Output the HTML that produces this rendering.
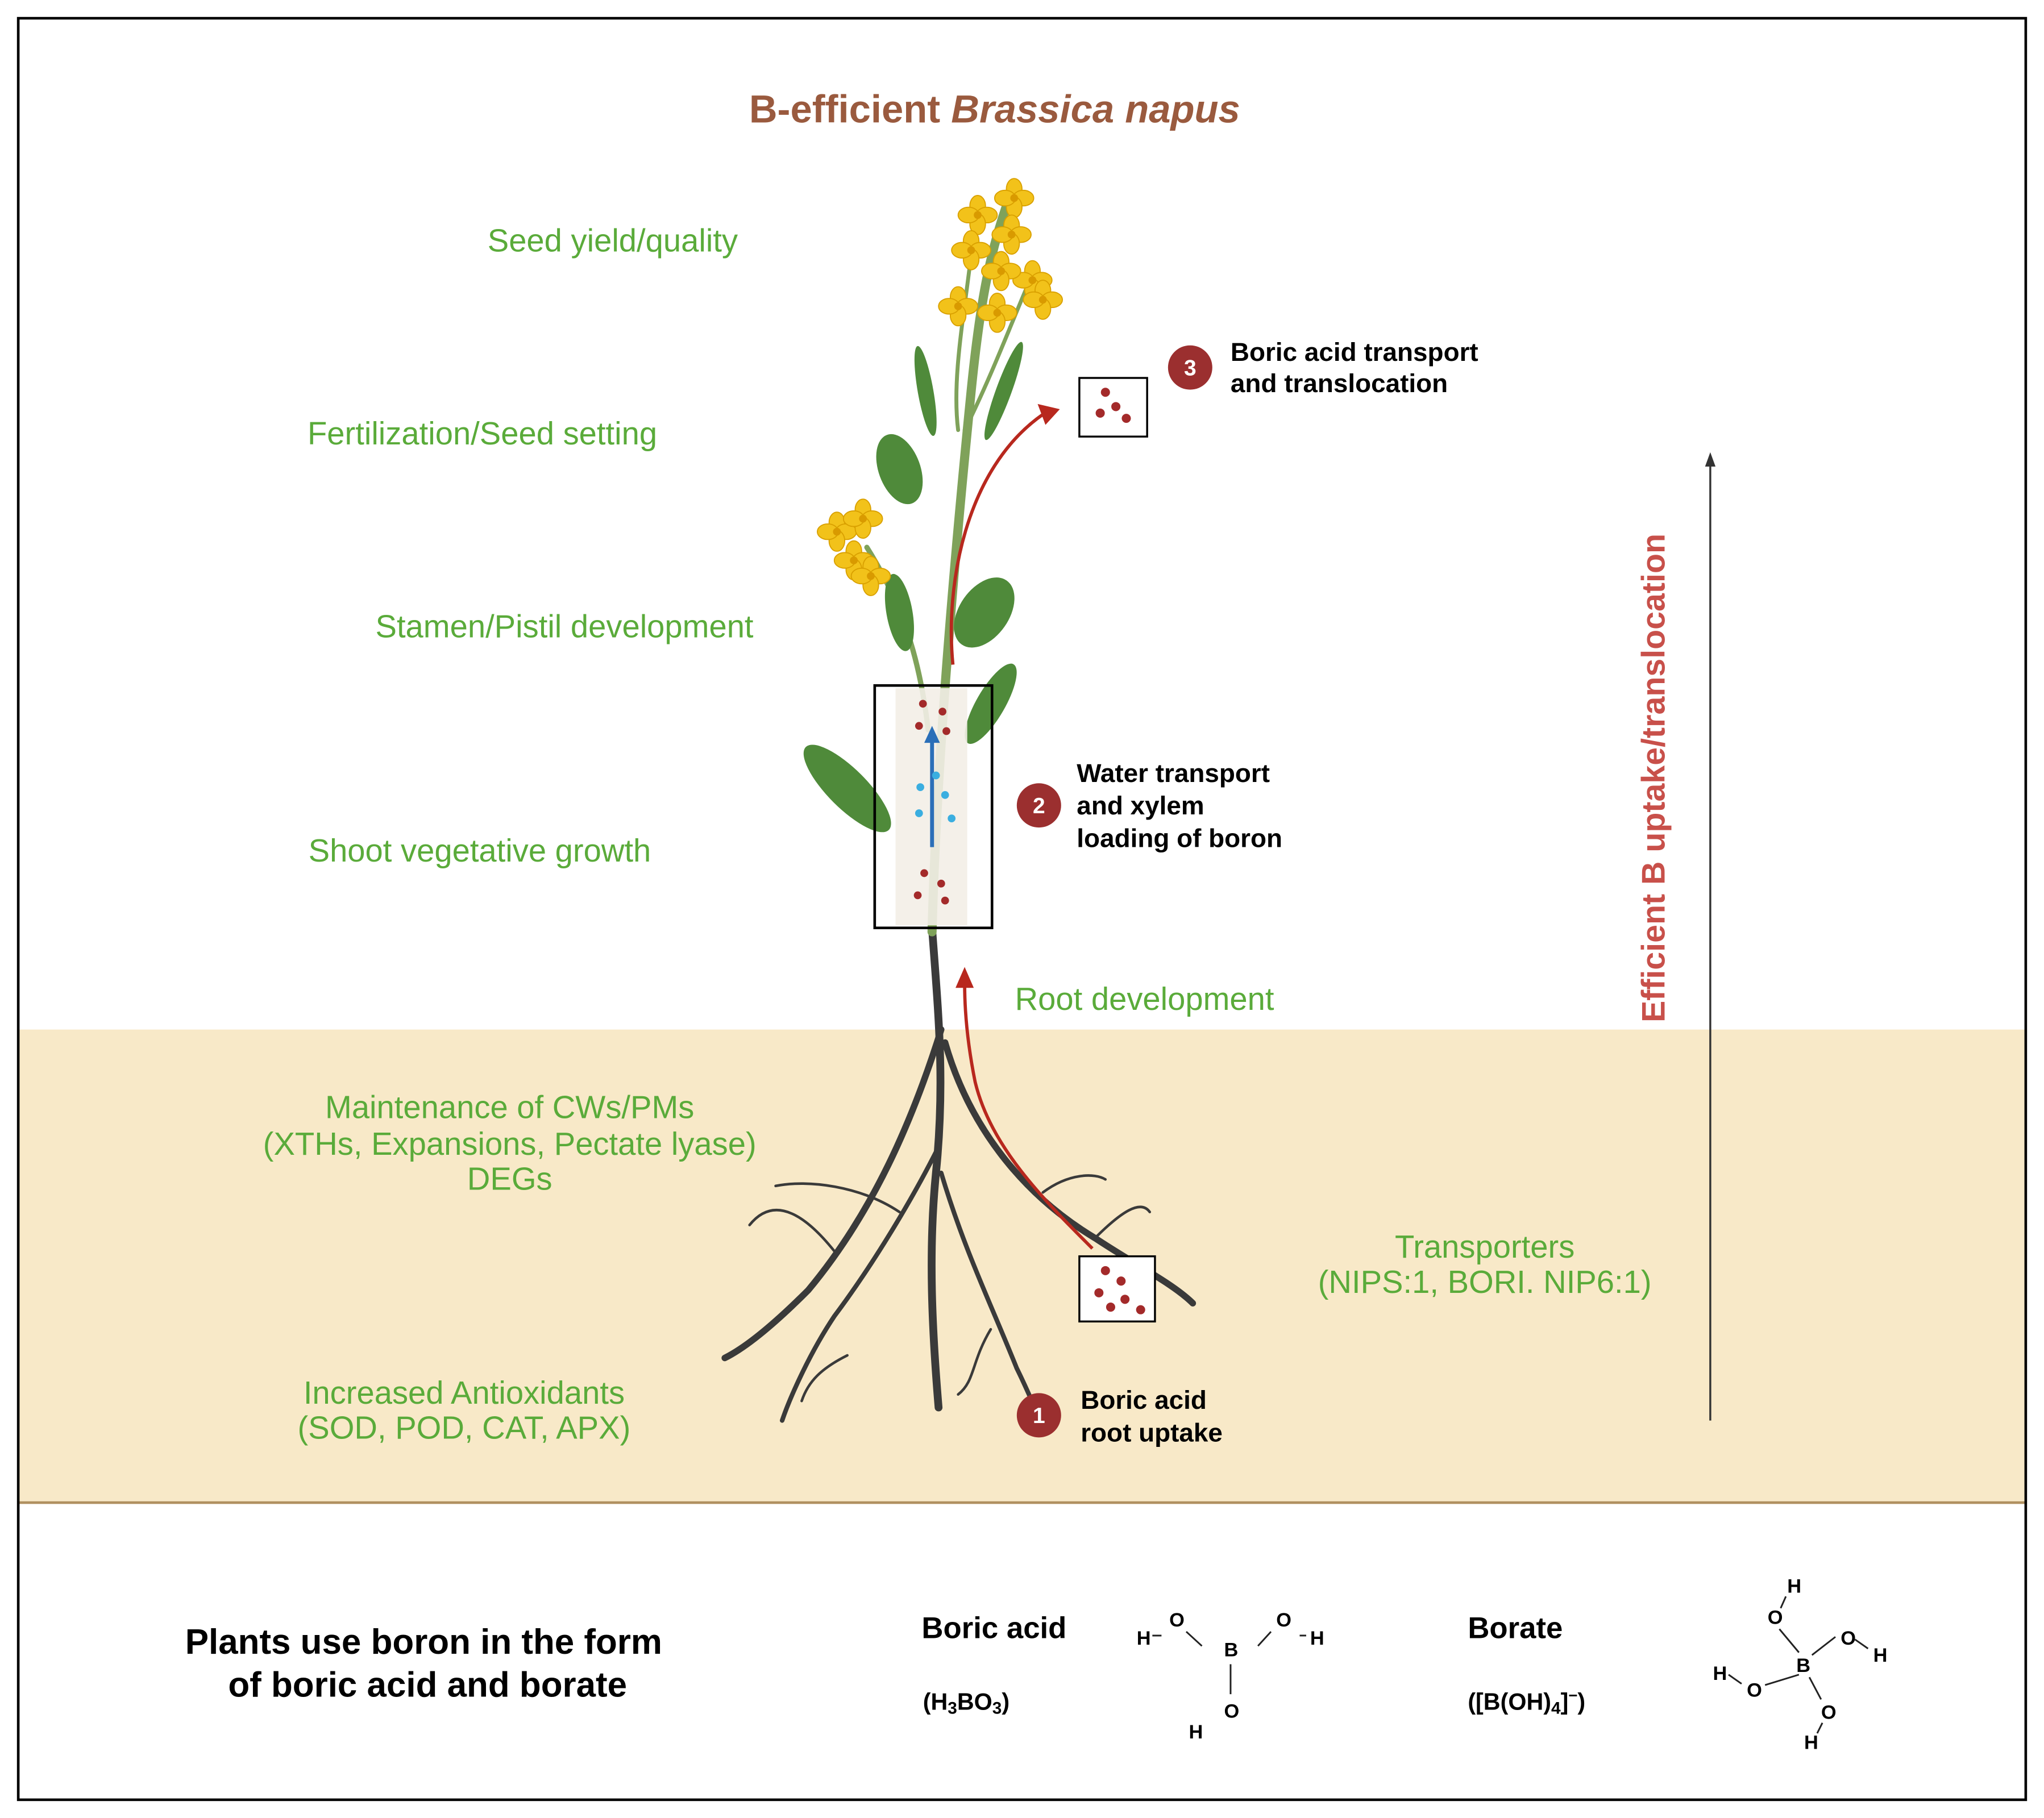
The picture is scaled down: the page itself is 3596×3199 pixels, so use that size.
<!DOCTYPE html>
<html><head><meta charset="utf-8"><style>
html,body{margin:0;padding:0;background:#fff}
svg{display:block}
text{font-family:"Liberation Sans",sans-serif}
.g{fill:#5aab3a;font-size:24.5px}
.b{fill:#000;font-weight:bold;font-size:20px}
.c{font-size:15px;font-weight:bold;fill:#000}
</style></head><body>
<svg width="3596" height="3199" viewBox="0 0 1568 1395" preserveAspectRatio="none" xmlns="http://www.w3.org/2000/svg">
<defs>
<g id="fl"><g fill="#f2c21a" stroke="#d9a000" stroke-width="0.8"><ellipse cx="0" cy="-7" rx="6" ry="8"/><ellipse cx="7" cy="0" rx="8" ry="6"/><ellipse cx="0" cy="7" rx="6" ry="8"/><ellipse cx="-7" cy="0" rx="8" ry="6"/></g><circle r="3" fill="#d99a00"/></g>
</defs>
<rect x="0" y="0" width="1568" height="1395" fill="#fff"/>
<rect x="14" y="790" width="1540" height="363" fill="#f8e9c8"/>
<line x1="14" y1="1153" x2="1554" y2="1153" stroke="#b09060" stroke-width="2"/>
<rect x="14" y="14" width="1540" height="1367" fill="none" stroke="#000" stroke-width="2"/>
<text x="763" y="94" text-anchor="middle" font-size="30" font-weight="bold" fill="#9a5a3e">B-efficient <tspan font-style="italic">Brassica napus</tspan></text>
<text class="g" x="470" y="193" text-anchor="middle">Seed yield/quality</text>
<text class="g" x="370" y="341" text-anchor="middle">Fertilization/Seed setting</text>
<text class="g" x="433" y="489" text-anchor="middle">Stamen/Pistil development</text>
<text class="g" x="368" y="661" text-anchor="middle">Shoot vegetative growth</text>
<text class="g" x="878" y="775" text-anchor="middle">Root development</text>
<text class="g" x="391" y="858" text-anchor="middle">Maintenance of CWs/PMs</text>
<text class="g" x="391" y="886" text-anchor="middle">(XTHs, Expansions, Pectate lyase)</text>
<text class="g" x="391" y="913" text-anchor="middle">DEGs</text>
<text class="g" x="1139" y="965" text-anchor="middle">Transporters</text>
<text class="g" x="1139" y="992" text-anchor="middle">(NIPS:1, BORI. NIP6:1)</text>
<text class="g" x="356" y="1077" text-anchor="middle">Increased Antioxidants</text>
<text class="g" x="356" y="1104" text-anchor="middle">(SOD, POD, CAT, APX)</text>
<g fill="none" stroke="#3a3a3a" stroke-linecap="round">
<path d="M715 712 C720 780 725 830 718 900 C712 960 715 1020 720 1080" stroke-width="6"/>
<path d="M722 790 C700 860 670 930 620 990 C590 1020 570 1035 556 1042" stroke-width="5"/>
<path d="M725 800 C745 870 790 920 840 950 C870 970 900 985 915 1000" stroke-width="5"/>
<path d="M720 880 C700 920 670 970 640 1010 C620 1040 605 1075 600 1090" stroke-width="3.5"/>
<path d="M722 900 C740 960 760 1000 780 1050 C790 1070 795 1085 800 1090" stroke-width="3.5"/>
<path d="M640 960 C620 935 595 915 575 940" stroke-width="2"/>
<path d="M690 930 C660 910 620 905 595 910" stroke-width="2"/>
<path d="M840 950 C860 930 875 920 882 930" stroke-width="2"/>
<path d="M800 915 C820 900 840 900 848 905" stroke-width="2"/>
<path d="M760 1020 C745 1045 748 1060 735 1070" stroke-width="2"/>
<path d="M650 1040 C630 1050 620 1060 615 1075" stroke-width="2"/>
</g>
<g fill="none" stroke="#7fa25a" stroke-linecap="round">
<path d="M715 715 C718 600 730 450 745 300 C752 230 760 190 775 150" stroke-width="7"/>
<path d="M712 560 C705 500 690 460 665 420" stroke-width="4"/>
<path d="M740 330 C760 290 775 250 790 215" stroke-width="3"/>
<path d="M735 330 C730 290 740 240 745 195" stroke-width="3"/>
</g>
<g fill="#4f8a3a">
<ellipse cx="690" cy="360" rx="16" ry="28" transform="rotate(-20 690 360)"/>
<ellipse cx="755" cy="470" rx="19" ry="30" transform="rotate(35 755 470)"/>
<ellipse cx="650" cy="605" rx="15" ry="45" transform="rotate(-45 650 605)"/>
<ellipse cx="760" cy="540" rx="11" ry="35" transform="rotate(30 760 540)"/>
<ellipse cx="710" cy="300" rx="6" ry="35" transform="rotate(-10 710 300)"/>
<ellipse cx="770" cy="300" rx="6" ry="40" transform="rotate(20 770 300)"/>
<ellipse cx="690" cy="470" rx="10" ry="30" transform="rotate(-10 690 470)"/>
</g>
<use href="#fl" x="778" y="152"/><use href="#fl" x="750" y="165"/><use href="#fl" x="745" y="192"/>
<use href="#fl" x="776" y="180"/><use href="#fl" x="792" y="215"/><use href="#fl" x="735" y="235"/>
<use href="#fl" x="768" y="208" transform="translate(0 0)"/><use href="#fl" x="765" y="240"/><use href="#fl" x="800" y="230"/>
<use href="#fl" x="642" y="408"/><use href="#fl" x="662" y="398"/><use href="#fl" x="655" y="430"/>
<use href="#fl" x="668" y="442"/>
<rect x="687" y="528" width="55" height="182" fill="#f3eee7" opacity="0.9"/>
<rect x="671" y="526" width="90" height="186" fill="none" stroke="#000" stroke-width="2"/>
<line x1="715" y1="650" x2="715" y2="568" stroke="#2a6fb8" stroke-width="3"/>
<polygon points="709,570 721,570 715,557" fill="#2a6fb8"/>
<g fill="#3aaee0"><circle cx="706" cy="604" r="3"/><circle cx="725" cy="610" r="3"/><circle cx="705" cy="624" r="3"/><circle cx="730" cy="628" r="3"/><circle cx="718" cy="595" r="3"/></g>
<g fill="#a32a2a"><circle cx="708" cy="540" r="3"/><circle cx="723" cy="546" r="3"/><circle cx="705" cy="557" r="3"/><circle cx="726" cy="561" r="3"/><circle cx="709" cy="670" r="3"/><circle cx="722" cy="678" r="3"/><circle cx="704" cy="687" r="3"/><circle cx="725" cy="691" r="3"/></g>
<g fill="none" stroke="#b8281e" stroke-width="2.5">
<path d="M838 958 C800 920 760 880 748 830 C742 800 740 775 740 755"/>
<path d="M731 510 C725 450 740 360 800 318"/>
</g>
<polygon points="733,758 747,758 740,742" fill="#b8281e"/>
<polygon points="796,310 813,314 802,326" fill="#b8281e"/>
<rect x="828" y="290" width="52" height="45" fill="#fff" stroke="#000" stroke-width="1.5"/>
<g fill="#a32a2a"><circle cx="848" cy="301" r="3.5"/><circle cx="844" cy="317" r="3.5"/><circle cx="856" cy="312" r="3.5"/><circle cx="864" cy="321" r="3.5"/></g>
<rect x="828" y="964" width="58" height="50" fill="#fff" stroke="#000" stroke-width="1.5"/>
<g fill="#a32a2a"><circle cx="848" cy="975" r="3.5"/><circle cx="860" cy="983" r="3.5"/><circle cx="843" cy="992" r="3.5"/><circle cx="863" cy="997" r="3.5"/><circle cx="852" cy="1003" r="3.5"/><circle cx="875" cy="1005" r="3.5"/></g>
<g fill="#9b2f2f"><circle cx="913" cy="282" r="17"/><circle cx="797" cy="618" r="17"/><circle cx="797" cy="1086" r="17"/></g>
<g fill="#fff" font-size="17" font-weight="bold" text-anchor="middle"><text x="913" y="288">3</text><text x="797" y="624">2</text><text x="797" y="1092">1</text></g>
<text class="b" x="944" y="277">Boric acid transport</text>
<text class="b" x="944" y="301">and translocation</text>
<text class="b" x="826" y="600">Water transport</text>
<text class="b" x="826" y="625">and xylem</text>
<text class="b" x="826" y="650">loading of boron</text>
<text class="b" x="829" y="1081">Boric acid</text>
<text class="b" x="829" y="1106">root uptake</text>
<line x1="1312" y1="1090" x2="1312" y2="356" stroke="#333" stroke-width="1.5"/>
<polygon points="1308,358 1316,358 1312,347" fill="#333"/>
<text x="1277" y="597" transform="rotate(-90 1277 597)" text-anchor="middle" font-size="25" font-weight="bold" fill="#c8504a">Efficient B uptake/translocation</text>
<text x="325" y="1269" text-anchor="middle" font-size="27" font-weight="bold">Plants use boron in the form</text>
<text x="328" y="1302" text-anchor="middle" font-size="27" font-weight="bold">of boric acid and borate</text>
<text x="707" y="1257" font-size="23" font-weight="bold">Boric acid</text>
<text x="708" y="1312" font-size="18" font-weight="bold">(H<tspan font-size="13" dy="3">3</tspan><tspan dy="-3">BO</tspan><tspan font-size="13" dy="3">3</tspan><tspan dy="-3">)</tspan></text>
<text x="1126" y="1257" font-size="23" font-weight="bold">Borate</text>
<text x="1126" y="1312" font-size="18" font-weight="bold">([B(OH)<tspan font-size="13" dy="3">4</tspan><tspan dy="-3">]</tspan><tspan font-size="12" dy="-7">−</tspan><tspan dy="7">)</tspan></text>
<g class="c"><text x="872" y="1262">H</text><text x="897" y="1248">O</text><text x="939" y="1271">B</text><text x="979" y="1248">O</text><text x="1005" y="1262">H</text><text x="939" y="1318">O</text><text x="912" y="1334">H</text></g>
<g stroke="#222" stroke-width="1.3"><line x1="910" y1="1252" x2="922" y2="1263"/><line x1="965" y1="1263" x2="975" y2="1252"/><line x1="944" y1="1277" x2="944" y2="1300"/><line x1="884" y1="1255" x2="891" y2="1255"/><line x1="997" y1="1255" x2="1002" y2="1255"/></g>
<g class="c"><text x="1371" y="1222">H</text><text x="1356" y="1246">O</text><text x="1412" y="1262">O</text><text x="1437" y="1275">H</text><text x="1378" y="1283">B</text><text x="1314" y="1289">H</text><text x="1340" y="1302">O</text><text x="1397" y="1319">O</text><text x="1384" y="1342">H</text></g>
<g stroke="#222" stroke-width="1.3"><line x1="1370" y1="1225" x2="1366" y2="1234"/><line x1="1365" y1="1250" x2="1380" y2="1268"/><line x1="1390" y1="1270" x2="1408" y2="1256"/><line x1="1423" y1="1258" x2="1433" y2="1265"/><line x1="1380" y1="1285" x2="1354" y2="1293"/><line x1="1326" y1="1285" x2="1336" y2="1292"/><line x1="1388" y1="1287" x2="1397" y2="1304"/><line x1="1398" y1="1322" x2="1394" y2="1330"/></g>
</svg>
</body></html>
